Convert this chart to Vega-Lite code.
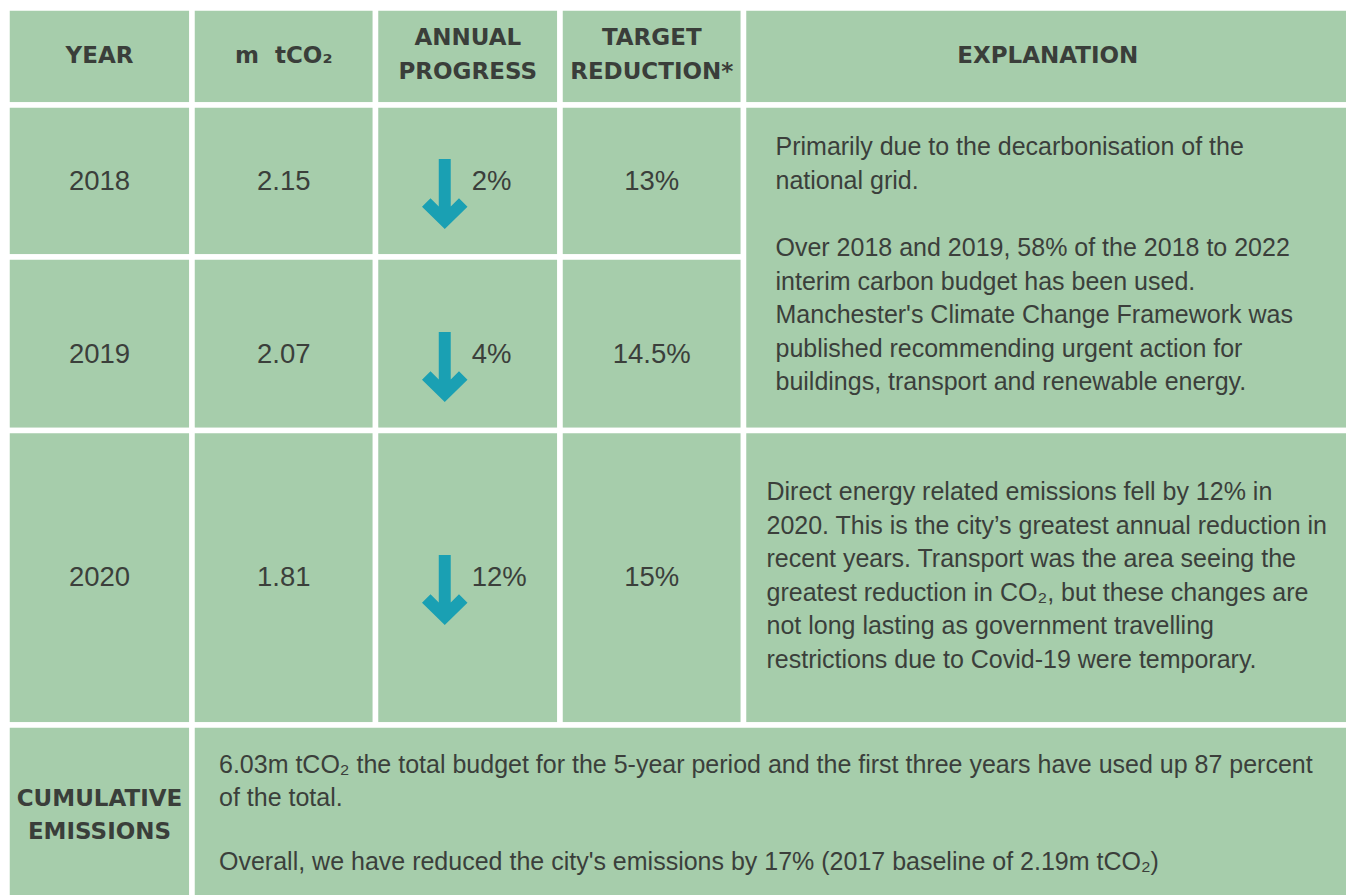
{
  "$schema": "https://vega.github.io/schema/vega-lite/v6.json",
  "width": 1346,
  "height": 895,
  "padding": 0,
  "autosize": {"type": "none"},
  "background": "white",
  "config": {"view": {"stroke": null}},
  "datasets": {
    "cells": [
      {"c0": 0, "c1": 1, "r0": 0, "r1": 1},
      {"c0": 1, "c1": 2, "r0": 0, "r1": 1},
      {"c0": 2, "c1": 3, "r0": 0, "r1": 1},
      {"c0": 3, "c1": 4, "r0": 0, "r1": 1},
      {"c0": 4, "c1": 5, "r0": 0, "r1": 1},
      {"c0": 0, "c1": 1, "r0": 1, "r1": 2},
      {"c0": 1, "c1": 2, "r0": 1, "r1": 2},
      {"c0": 2, "c1": 3, "r0": 1, "r1": 2},
      {"c0": 3, "c1": 4, "r0": 1, "r1": 2},
      {"c0": 0, "c1": 1, "r0": 2, "r1": 3},
      {"c0": 1, "c1": 2, "r0": 2, "r1": 3},
      {"c0": 2, "c1": 3, "r0": 2, "r1": 3},
      {"c0": 3, "c1": 4, "r0": 2, "r1": 3},
      {"c0": 4, "c1": 5, "r0": 1, "r1": 3},
      {"c0": 0, "c1": 1, "r0": 3, "r1": 4},
      {"c0": 1, "c1": 2, "r0": 3, "r1": 4},
      {"c0": 2, "c1": 3, "r0": 3, "r1": 4},
      {"c0": 3, "c1": 4, "r0": 3, "r1": 4},
      {"c0": 4, "c1": 5, "r0": 3, "r1": 4},
      {"c0": 0, "c1": 1, "r0": 4, "r1": 5},
      {"c0": 1, "c1": 5, "r0": 4, "r1": 5}
    ],
    "years": [
      {"year": 2018, "mtco2": 2.15, "progress": 0.02, "target": 0.13},
      {"year": 2019, "mtco2": 2.07, "progress": 0.04, "target": 0.145},
      {"year": 2020, "mtco2": 1.81, "progress": 0.12, "target": 0.15}
    ]
  },
  "resolve": {"scale": {"y": "independent"}},
  "layer": [
    {
      "data": {"name": "cells"},
      "mark": {"type": "rect", "fill": "#a6cdab", "stroke": "white", "strokeWidth": 5.5},
      "encoding": {
        "x": {"field": "c0", "type": "quantitative", "axis": null, "scale": {"domain": [0, 1, 2, 3, 4, 5], "range": [7, 192, 375.5, 560, 743.5, 1352], "zero": false, "nice": false}},
        "x2": {"field": "c1"},
        "y": {"field": "r0", "type": "quantitative", "axis": null, "scale": {"domain": [0, 1, 2, 3, 4, 5], "range": [8, 105, 257, 430.5, 725, 898], "zero": false, "nice": false}},
        "y2": {"field": "r1"}
      }
    },
    {
      "data": {"values": [
        {"label": "YEAR", "c": 0.5, "r": 0.5},
        {"label": "m\u00a0 tCO₂", "c": 1.5, "r": 0.5},
        {"label": "EXPLANATION", "c": 4.5, "r": 0.5}
      ]},
      "mark": {"type": "text", "font": "DejaVu Sans", "fontWeight": "bold", "fontSize": 23, "color": "#3a3e3a", "align": "center", "baseline": "middle", "dy": -1},
      "encoding": {
        "x": {"field": "c", "type": "quantitative", "axis": null, "scale": {"domain": [0, 1, 2, 3, 4, 5], "range": [7, 192, 375.5, 560, 743.5, 1352], "zero": false, "nice": false}},
        "y": {"field": "r", "type": "quantitative", "axis": null, "scale": {"domain": [0, 1, 2, 3, 4, 5], "range": [8, 105, 257, 430.5, 725, 898], "zero": false, "nice": false}},
        "text": {"field": "label"}
      }
    },
    {
      "data": {"values": [
        {"label": "ANNUAL\nPROGRESS", "c": 2.5, "r": 0.5},
        {"label": "TARGET\nREDUCTION*", "c": 3.5, "r": 0.5}
      ]},
      "mark": {"type": "text", "font": "DejaVu Sans", "fontWeight": "bold", "fontSize": 23, "color": "#3a3e3a", "align": "center", "baseline": "middle", "lineBreak": "\n", "lineHeight": 34, "dy": -18.5},
      "encoding": {
        "x": {"field": "c", "type": "quantitative", "axis": null, "scale": {"domain": [0, 1, 2, 3, 4, 5], "range": [7, 192, 375.5, 560, 743.5, 1352], "zero": false, "nice": false}},
        "y": {"field": "r", "type": "quantitative", "axis": null, "scale": {"domain": [0, 1, 2, 3, 4, 5], "range": [8, 105, 257, 430.5, 725, 898], "zero": false, "nice": false}},
        "text": {"field": "label"}
      }
    },
    {
      "data": {"values": [
        {"label": "CUMULATIVE\nEMISSIONS", "c": 0.5, "r": 4.5}
      ]},
      "mark": {"type": "text", "font": "DejaVu Sans", "fontWeight": "bold", "fontSize": 23, "color": "#3a3e3a", "align": "center", "baseline": "middle", "lineBreak": "\n", "lineHeight": 33, "dy": -12.5},
      "encoding": {
        "x": {"field": "c", "type": "quantitative", "axis": null, "scale": {"domain": [0, 1, 2, 3, 4, 5], "range": [7, 192, 375.5, 560, 743.5, 1352], "zero": false, "nice": false}},
        "y": {"field": "r", "type": "quantitative", "axis": null, "scale": {"domain": [0, 1, 2, 3, 4, 5], "range": [8, 105, 257, 430.5, 725, 898], "zero": false, "nice": false}},
        "text": {"field": "label"}
      }
    },
    {
      "data": {"name": "years"},
      "mark": {"type": "text", "font": "Liberation Sans", "fontSize": 27.5, "color": "#3b3f3b", "align": "center", "baseline": "middle"},
      "encoding": {
        "x": {"datum": 0.5, "type": "quantitative", "axis": null, "scale": {"domain": [0, 1, 2, 3, 4, 5], "range": [7, 192, 375.5, 560, 743.5, 1352], "zero": false, "nice": false}},
        "y": {"field": "year", "type": "quantitative", "axis": null, "scale": {"domain": [2018, 2019, 2020], "range": [182, 355, 578], "zero": false, "nice": false}},
        "text": {"field": "year", "type": "quantitative", "format": "d"}
      }
    },
    {
      "data": {"name": "years"},
      "mark": {"type": "text", "font": "Liberation Sans", "fontSize": 27.5, "color": "#3b3f3b", "align": "center", "baseline": "middle"},
      "encoding": {
        "x": {"datum": 1.5, "type": "quantitative", "axis": null, "scale": {"domain": [0, 1, 2, 3, 4, 5], "range": [7, 192, 375.5, 560, 743.5, 1352], "zero": false, "nice": false}},
        "y": {"field": "year", "type": "quantitative", "axis": null, "scale": {"domain": [2018, 2019, 2020], "range": [182, 355, 578], "zero": false, "nice": false}},
        "text": {"field": "mtco2", "type": "quantitative", "format": ".2f"}
      }
    },
    {
      "data": {"name": "years"},
      "mark": {"type": "text", "font": "Liberation Sans", "fontSize": 27.5, "color": "#3b3f3b", "align": "center", "baseline": "middle"},
      "encoding": {
        "x": {"datum": 3.5, "type": "quantitative", "axis": null, "scale": {"domain": [0, 1, 2, 3, 4, 5], "range": [7, 192, 375.5, 560, 743.5, 1352], "zero": false, "nice": false}},
        "y": {"field": "year", "type": "quantitative", "axis": null, "scale": {"domain": [2018, 2019, 2020], "range": [182, 355, 578], "zero": false, "nice": false}},
        "text": {"field": "target", "type": "quantitative", "format": ".1~%"}
      }
    },
    {
      "data": {"name": "years"},
      "mark": {"type": "text", "font": "Liberation Sans", "fontSize": 27.5, "color": "#3b3f3b", "align": "left", "baseline": "middle", "dx": 4},
      "encoding": {
        "x": {"datum": 2.5, "type": "quantitative", "axis": null, "scale": {"domain": [0, 1, 2, 3, 4, 5], "range": [7, 192, 375.5, 560, 743.5, 1352], "zero": false, "nice": false}},
        "y": {"field": "year", "type": "quantitative", "axis": null, "scale": {"domain": [2018, 2019, 2020], "range": [182, 355, 578], "zero": false, "nice": false}},
        "text": {"field": "progress", "type": "quantitative", "format": ".0%"}
      }
    },
    {
      "data": {"name": "years"},
      "mark": {"type": "point", "filled": true, "opacity": 1, "color": "#1aa0b3", "strokeWidth": 0, "size": 4900, "xOffset": -23, "yOffset": 12,
        "shape": "M-0.171,-1 L0.171,-1 L0.171,0.357 L0.407,0.121 L0.65,0.364 L0,1 L-0.65,0.364 L-0.407,0.121 L-0.171,0.357 Z"},
      "encoding": {
        "x": {"datum": 2.5, "type": "quantitative", "axis": null, "scale": {"domain": [0, 1, 2, 3, 4, 5], "range": [7, 192, 375.5, 560, 743.5, 1352], "zero": false, "nice": false}},
        "y": {"field": "year", "type": "quantitative", "axis": null, "scale": {"domain": [2018, 2019, 2020], "range": [182, 355, 578], "zero": false, "nice": false}}
      }
    },
    {
      "data": {"values": [{"note": "Primarily due to the decarbonisation of the\nnational grid.", "c": 4, "r": 1}]},
      "mark": {"type": "text", "font": "Liberation Sans", "fontSize": 25, "color": "#3b3f3b", "align": "left", "baseline": "middle", "lineBreak": "\n", "lineHeight": 33.6, "dx": 32, "dy": 42},
      "encoding": {
        "x": {"field": "c", "type": "quantitative", "axis": null, "scale": {"domain": [0, 1, 2, 3, 4, 5], "range": [7, 192, 375.5, 560, 743.5, 1352], "zero": false, "nice": false}},
        "y": {"field": "r", "type": "quantitative", "axis": null, "scale": {"domain": [0, 1, 2, 3, 4, 5], "range": [8, 105, 257, 430.5, 725, 898], "zero": false, "nice": false}},
        "text": {"field": "note"}
      }
    },
    {
      "data": {"values": [{"note": "Over 2018 and 2019, 58% of the 2018 to 2022\ninterim carbon budget has been used.\nManchester's Climate Change Framework was\npublished recommending urgent action for\nbuildings, transport and renewable energy.", "c": 4, "r": 1}]},
      "mark": {"type": "text", "font": "Liberation Sans", "fontSize": 25, "color": "#3b3f3b", "align": "left", "baseline": "middle", "lineBreak": "\n", "lineHeight": 33.6, "dx": 32, "dy": 143},
      "encoding": {
        "x": {"field": "c", "type": "quantitative", "axis": null, "scale": {"domain": [0, 1, 2, 3, 4, 5], "range": [7, 192, 375.5, 560, 743.5, 1352], "zero": false, "nice": false}},
        "y": {"field": "r", "type": "quantitative", "axis": null, "scale": {"domain": [0, 1, 2, 3, 4, 5], "range": [8, 105, 257, 430.5, 725, 898], "zero": false, "nice": false}},
        "text": {"field": "note"}
      }
    },
    {
      "data": {"values": [{"note": "Direct energy related emissions fell by 12% in\n2020. This is the city’s greatest annual reduction in\nrecent years. Transport was the area seeing the\ngreatest reduction in CO₂, but these changes are\nnot long lasting as government travelling\nrestrictions due to Covid-19 were temporary.", "c": 4, "r": 3}]},
      "mark": {"type": "text", "font": "Liberation Sans", "fontSize": 25, "color": "#3b3f3b", "align": "left", "baseline": "middle", "lineBreak": "\n", "lineHeight": 33.6, "dx": 23, "dy": 61.5},
      "encoding": {
        "x": {"field": "c", "type": "quantitative", "axis": null, "scale": {"domain": [0, 1, 2, 3, 4, 5], "range": [7, 192, 375.5, 560, 743.5, 1352], "zero": false, "nice": false}},
        "y": {"field": "r", "type": "quantitative", "axis": null, "scale": {"domain": [0, 1, 2, 3, 4, 5], "range": [8, 105, 257, 430.5, 725, 898], "zero": false, "nice": false}},
        "text": {"field": "note"}
      }
    },
    {
      "data": {"values": [{"note": "6.03m tCO₂ the total budget for the 5-year period and the first three years have used up 87 percent\nof the total.", "c": 1, "r": 4}]},
      "mark": {"type": "text", "font": "Liberation Sans", "fontSize": 25, "color": "#3b3f3b", "align": "left", "baseline": "middle", "lineBreak": "\n", "lineHeight": 32.5, "dx": 27, "dy": 40},
      "encoding": {
        "x": {"field": "c", "type": "quantitative", "axis": null, "scale": {"domain": [0, 1, 2, 3, 4, 5], "range": [7, 192, 375.5, 560, 743.5, 1352], "zero": false, "nice": false}},
        "y": {"field": "r", "type": "quantitative", "axis": null, "scale": {"domain": [0, 1, 2, 3, 4, 5], "range": [8, 105, 257, 430.5, 725, 898], "zero": false, "nice": false}},
        "text": {"field": "note"}
      }
    },
    {
      "data": {"values": [{"note": "Overall, we have reduced the city's emissions by 17% (2017 baseline of 2.19m tCO₂)", "c": 1, "r": 4}]},
      "mark": {"type": "text", "font": "Liberation Sans", "fontSize": 25, "color": "#3b3f3b", "align": "left", "baseline": "middle", "dx": 27, "dy": 137},
      "encoding": {
        "x": {"field": "c", "type": "quantitative", "axis": null, "scale": {"domain": [0, 1, 2, 3, 4, 5], "range": [7, 192, 375.5, 560, 743.5, 1352], "zero": false, "nice": false}},
        "y": {"field": "r", "type": "quantitative", "axis": null, "scale": {"domain": [0, 1, 2, 3, 4, 5], "range": [8, 105, 257, 430.5, 725, 898], "zero": false, "nice": false}},
        "text": {"field": "note"}
      }
    }
  ]
}
